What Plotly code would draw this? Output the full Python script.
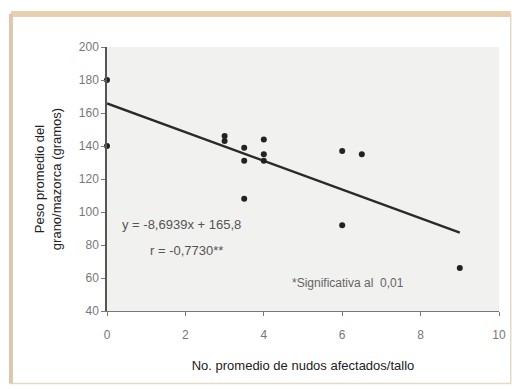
import plotly.graph_objects as go

x_vals = [0, 0, 3, 3, 3.5, 3.5, 3.5, 4, 4, 4, 6, 6.5, 6, 9]
y_vals = [180, 140, 146, 143, 139, 131, 108, 144, 135, 131, 137, 135, 92, 66]
slope = -8.6939
intercept = 165.8
line_x = [0, 9]
line_y = [intercept + slope * v for v in line_x]
x_ticks = [0, 2, 4, 6, 8, 10]
y_ticks = [40, 60, 80, 100, 120, 140, 160, 180, 200]

fig = go.Figure()
fig.add_trace(go.Scatter(x=line_x, y=line_y, mode="lines",
                         line=dict(color="#2a2a2a", width=2.4), showlegend=False))
fig.add_trace(go.Scatter(x=x_vals, y=y_vals, mode="markers",
                         marker=dict(color="#222222", size=6, symbol="circle"),
                         showlegend=False, cliponaxis=False))

fig.update_layout(
    width=518, height=389,
    margin=dict(l=107, r=15, t=47, b=78),
    paper_bgcolor="white",
    plot_bgcolor="#f1f1ef",
    font=dict(family="Liberation Sans, Arial, sans-serif", color="#555555", size=12),
    xaxis=dict(range=[0, 10], tickvals=x_ticks, showgrid=False, zeroline=False,
               showline=True, linecolor="#777777", linewidth=1.2,
               ticks="outside", ticklen=4, tickcolor="#777777",
               ticklabelstandoff=8,
               tickfont=dict(size=12, color="#777777"),
               title=dict(text="No. promedio de nudos afectados/tallo",
                          font=dict(size=13, color="#222222"), standoff=20)),
    yaxis=dict(range=[40, 200], tickvals=y_ticks, showgrid=False, zeroline=False,
               showline=True, linecolor="#555555", linewidth=1.5,
               ticks="outside", ticklen=4, tickcolor="#777777",
               tickfont=dict(size=12, color="#777777"),
               title=dict(text="Peso promedio del<br>grano/mazorca (gramos)",
                          font=dict(size=13, color="#222222"), standoff=14)),
    annotations=[
        dict(x=0.033, y=0.326, xref="paper", yref="paper", showarrow=False,
             xanchor="left", yanchor="middle",
             text="y = -8,6939x + 165,8", font=dict(size=13, color="#555555")),
        dict(x=0.104, y=0.231, xref="paper", yref="paper", showarrow=False,
             xanchor="left", yanchor="middle",
             text="r = -0,7730**", font=dict(size=13, color="#555555")),
        dict(x=0.467, y=0.106, xref="paper", yref="paper", showarrow=False,
             xanchor="left", yanchor="middle",
             text="*Significativa al  0,01", font=dict(size=12, color="#666666")),
    ],
    shapes=[
        dict(type="rect", xref="paper", yref="paper", layer="below",
             x0=-0.245, x1=1.03, y0=-0.275, y1=1.125,
             line=dict(color="#e6d9c6", width=1.5), fillcolor="rgba(0,0,0,0)"),
        dict(type="line", xref="paper", yref="paper", layer="below",
             x0=-0.245, x1=1.03, y0=1.125, y1=1.125,
             line=dict(color="#e8cfb0", width=6)),
        dict(type="line", xref="paper", yref="paper", layer="below",
             x0=-0.245, x1=-0.245, y0=-0.275, y1=1.125,
             line=dict(color="#dcc9ad", width=4)),
    ],
)

fig.write_html("out.html")
